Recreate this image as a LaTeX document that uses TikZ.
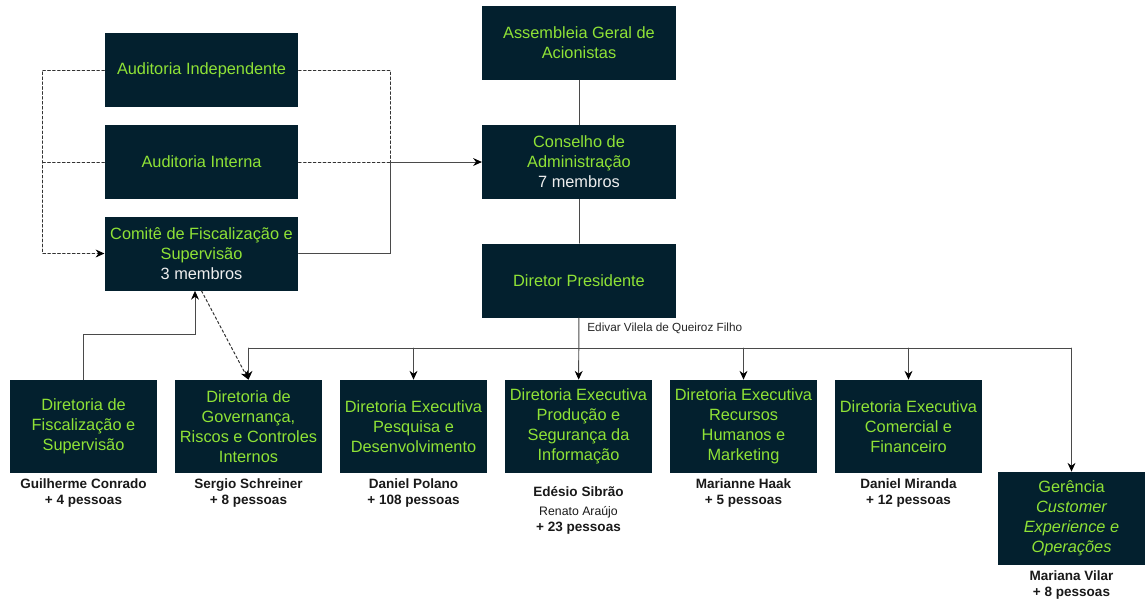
\documentclass[tikz,border=0pt]{standalone}
\usepackage{fontspec}
\setmainfont{Liberation Sans}
\usetikzlibrary{positioning,calc,arrows.meta}
\definecolor{fundo}{HTML}{03202E}
\definecolor{verde}{HTML}{8FE236}
\definecolor{membro}{HTML}{EEEEEE}
\definecolor{linha}{HTML}{4A4A4A}

\begin{document}
\begin{tikzpicture}[x=0.02cm, y=-0.02cm, line cap=round]
  % estilos
  \tikzset{
    caixa/.style={fill=fundo, text=verde, align=center, inner sep=2pt,
      font=\fontsize{9.3}{11.3}\selectfont, minimum width=3.87cm, minimum height=1.48cm},
    caixaB/.style={caixa, minimum width=2.94cm, minimum height=1.86cm},
    nome/.style={align=center, inner sep=0pt, text=black!90,
      font=\fontsize{7.7}{9.1}\selectfont\bfseries},
    conector/.style={draw=linha, line width=0.55pt},
    seta/.style={conector, -{Stealth[length=5pt,width=4.5pt,color=black]}},
    tracejado/.style={conector, draw=black!80, dash pattern=on 1.5pt off 1.3pt},
    setatracejada/.style={tracejado, -{Stealth[length=5pt,width=4.5pt,color=black]}}
  }
  \useasboundingbox (0,0) rectangle (1146,600);
  % auditorias e comite
  \node[caixa] (ai) at (201.5,70) {Auditoria Independente};
  \node[caixa] (ain) at (201.5,162) {Auditoria Interna};
  \node[caixa] (cfs) at (201.5,253.5) {Comitê de Fiscalização e\\Supervisão\\\textcolor{membro}{3 membros}};
  % coluna central
  \node[caixa] (agm) at (579,43) {Assembleia Geral de\\Acionistas};
  \node[caixa] (ca) at (579,162) {Conselho de\\Administração\\\textcolor{membro}{7 membros}};
  \node[caixa] (dp) at (579,280.5) {Diretor Presidente};
  \node[anchor=west, inner sep=0pt, text=black!85, font=\fontsize{6.7}{8}\selectfont]
    (edivar) at (587,328) {Edivar Vilela de Queiroz Filho};
  % diretorias
  \node[caixaB] (d1) at (83.5,426.5) {Diretoria de\\Fiscalização e\\Supervisão};
  \node[caixaB] (d2) at (248.5,426.5) {Diretoria de\\Governança,\\Riscos e Controles\\Internos};
  \node[caixaB] (d3) at (413.5,426.5) {Diretoria Executiva\\Pesquisa e\\Desenvolvimento};
  \node[caixaB] (d4) at (578.5,426.5) {Diretoria Executiva\\Produção e\\Segurança da\\Informação};
  \node[caixaB] (d5) at (743.5,426.5) {Diretoria Executiva\\Recursos\\Humanos e\\Marketing};
  \node[caixaB] (d6) at (908.5,426.5) {Diretoria Executiva\\Comercial e\\Financeiro};
  \node[caixaB] (ger) at (1071.5,518.5) {Gerência\\\itshape Customer\\\itshape Experience e\\\itshape Operações};
  % responsaveis
  \node[nome, below=0.1cm of d1] (n1) {Guilherme Conrado\\+ 4 pessoas};
  \node[nome, below=0.1cm of d2] (n2) {Sergio Schreiner\\+ 8 pessoas};
  \node[nome, below=0.1cm of d3] (n3) {Daniel Polano\\+ 108 pessoas};
  \node[nome, below=0.25cm of d4] (n4) {Edésio Sibrão\\[2pt]{\mdseries\fontsize{7}{8}\selectfont Renato Araújo}\\+ 23 pessoas};
  \node[nome, below=0.1cm of d5] (n5) {Marianne Haak\\+ 5 pessoas};
  \node[nome, below=0.1cm of d6] (n6) {Daniel Miranda\\+ 12 pessoas};
  \node[nome, below=0.1cm of ger] (n7) {Mariana Vilar\\+ 8 pessoas};
  % ligacoes das auditorias
  \coordinate (juncao) at (390,162);
  \draw[setatracejada] (ai.west) -- ++(-62,0) |- (cfs.west);
  \draw[tracejado] (ain.west) -- ++(-62,0);
  \draw[tracejado] (ai.east) -| (juncao);
  \draw[tracejado] (ain.east) -- (juncao);
  \draw[conector] (cfs.east) -| (juncao);
  \draw[seta] (juncao) -- (ca.west);
  % coluna central
  \draw[conector] (agm) -- (ca);
  \draw[conector] (ca) -- (dp);
  \draw[seta] (dp) -- (d4);
  % barra das diretorias
  \coordinate (barraE) at (248.5,348);
  \coordinate (barraD) at (1071.5,348);
  \draw[conector] (barraE) -- (barraD);
  \draw[seta] (barraE) -- (d2.north);
  \foreach \d in {d3,d5,d6}
    \draw[seta] (\d.north |- barraE) -- (\d.north);
  \draw[seta] (barraD) -- (ger.north);
  % fiscalizacao
  \draw[seta] (d1.north) -- ++(0,-45) -| ([xshift=-0.13cm]cfs.south);
  \draw[setatracejada] (cfs.south) -- (d2.north);
\end{tikzpicture}
\end{document}
